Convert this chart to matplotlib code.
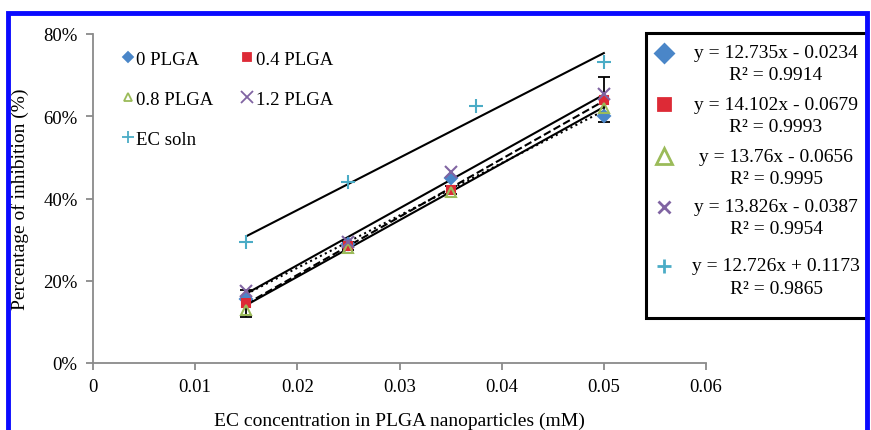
import matplotlib
matplotlib.use("Agg")
import matplotlib.pyplot as plt
from matplotlib.lines import Line2D
from matplotlib.patches import Rectangle
import numpy as np

plt.rcParams['font.family'] = ['Liberation Serif', 'DejaVu Serif']

# ---- data ----
x_conc = [0.015, 0.025, 0.035, 0.05]
plga_0 = [0.155, 0.29, 0.45, 0.60]
plga_04 = [0.145, 0.285, 0.42, 0.64]
plga_08 = [0.13, 0.28, 0.415, 0.62]
plga_12 = [0.175, 0.295, 0.465, 0.655]
ec_x = [0.015, 0.025, 0.0375, 0.05]
ec_soln = [0.294, 0.44, 0.625, 0.732]
err_04 = [0.032, 0.01, 0.01, 0.055]

series_names = ["0 PLGA", "0.4 PLGA", "0.8 PLGA", "1.2 PLGA", "EC soln"]
slopes = [12.735, 14.102, 13.76, 13.826, 12.726]
intercepts = [-0.0234, -0.0679, -0.0656, -0.0387, 0.1173]
r_squared = [0.9914, 0.9993, 0.9995, 0.9954, 0.9865]

x_ticks = [0, 0.01, 0.02, 0.03, 0.04, 0.05, 0.06]
y_ticks = [0, 0.2, 0.4, 0.6, 0.8]

# ---- styles ----
colors = ["#4a86c8", "#dd2a36", "#9bbb59", "#8064a2", "#4bacc6"]
markers = ["D", "s", "^", "x", "+"]
msizes = [6, 6, 7, 9, 10]
box_msizes = [9, 8, 12, 8, 10]
fills = ["full", "full", "none", "full", "full"]
trend_styles = [":", "--", "-", "-", "-"]

W, H = 871, 431
fig = plt.figure(figsize=(W / 100, H / 100), dpi=100)
ax = fig.add_axes([93 / W, 1 - 364 / H, (706 - 93) / W, (364 - 35) / H])

ys = [plga_0, plga_04, plga_08, plga_12, ec_soln]
xs = [x_conc, x_conc, x_conc, x_conc, ec_x]

# trendlines
for i in range(5):
    xx = np.array([min(xs[i]), max(xs[i])])
    ax.plot(xx, slopes[i] * xx + intercepts[i], color="black",
            linestyle=trend_styles[i], lw=1.5, zorder=2)

# error bars
ax.errorbar(x_conc, plga_04, yerr=err_04, fmt="none", ecolor="black",
            elinewidth=1.3, capsize=4, capthick=1.3, zorder=3)

handles = []
for i in range(5):
    mfc = colors[i] if fills[i] == "full" else "none"
    ax.plot(xs[i], ys[i], linestyle="none", marker=markers[i], markersize=msizes[i],
            color=colors[i], markerfacecolor=mfc, markeredgewidth=1.5, zorder=4)
    handles.append(Line2D([], [], linestyle="none", marker=markers[i],
                          markersize=msizes[i] * 0.9, color=colors[i],
                          markerfacecolor=mfc, markeredgewidth=1.3,
                          label=series_names[i]))

order = [0, 2, 4, 1, 3]
leg = ax.legend([handles[k] for k in order], [series_names[k] for k in order],
                ncol=2, loc="upper left", bbox_to_anchor=(0.02, 1.0),
                frameon=False, fontsize=13.5, handlelength=0.6,
                handletextpad=0.15, columnspacing=1.5, labelspacing=1.22)

ax.set_xlim(0, 0.06)
ax.set_ylim(0, 0.8)
ax.set_xticks(x_ticks)
ax.set_xticklabels([f"{t:g}" for t in x_ticks])
ax.set_yticks(y_ticks)
ax.set_yticklabels([f"{int(round(t * 100))}%" for t in y_ticks])
for s in ["top", "right"]:
    ax.spines[s].set_visible(False)
for s in ["left", "bottom"]:
    ax.spines[s].set_color("#8a8a8a")
    ax.spines[s].set_linewidth(1.3)
ax.tick_params(axis="both", direction="out", length=5, width=1.3,
               color="#8a8a8a", labelsize=13.5, pad=6)
ax.set_xlabel("EC concentration in PLGA nanoparticles (mM)", fontsize=14, labelpad=12)
ax.set_ylabel("Percentage of inhibition (%)", fontsize=14, labelpad=10)

# right-hand equation box
bx0, by0, bx1, by1 = 646, 34, 867, 319
fig.patches.append(Rectangle((bx0 / W, 1 - by1 / H), (bx1 - bx0) / W, (by1 - by0) / H,
                             transform=fig.transFigure, fill=False,
                             edgecolor="black", linewidth=2.2, zorder=5))
eq_y = [54, 105, 157, 208, 267]
r2_gap = 22
text_cx = 776
for i in range(5):
    sign = "-" if intercepts[i] < 0 else "+"
    eq = f"y = {slopes[i]}x {sign} {abs(intercepts[i])}"
    fig.text(text_cx / W, 1 - eq_y[i] / H, eq, ha="center", va="center", fontsize=14)
    fig.text(text_cx / W, 1 - (eq_y[i] + r2_gap) / H, f"R² = {r_squared[i]}",
             ha="center", va="center", fontsize=14)
    mfc = colors[i] if fills[i] == "full" else "none"
    fig.add_artist(Line2D([664 / W], [1 - eq_y[i] / H], transform=fig.transFigure,
                          marker=markers[i], markersize=box_msizes[i], linestyle="none",
                          color=colors[i], markerfacecolor=mfc, markeredgewidth=2.0))

# blue outer frame
fig.patches.append(Rectangle((8 / W, -0.05), (867 - 8) / W, 1.05 - 13.5 / H,
                             transform=fig.transFigure, fill=False,
                             edgecolor="#0a0aff", linewidth=3.5, zorder=6))

fig.savefig("out.png", dpi=100)
